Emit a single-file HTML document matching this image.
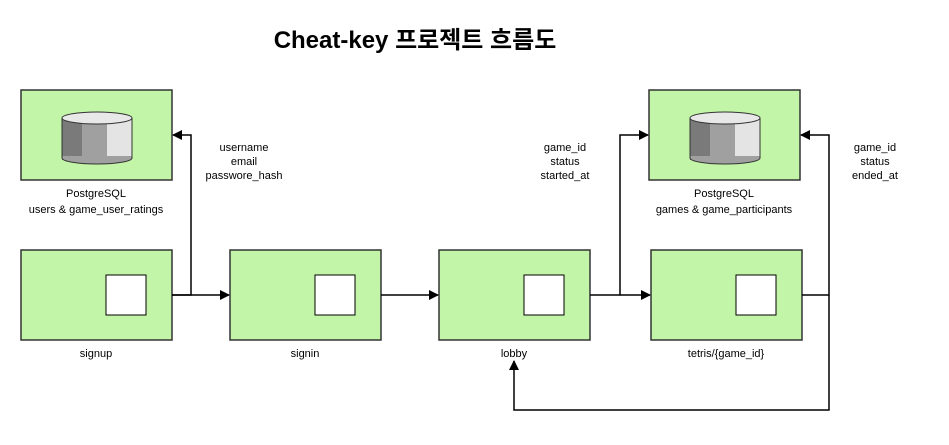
<!DOCTYPE html>
<html><head><meta charset="utf-8"><style>
html,body{margin:0;padding:0;background:#fff;}
svg text{font-family:"Liberation Sans","Noto Sans CJK KR",sans-serif;font-size:11px;fill:#000;}
</style></head><body>
<svg width="949" height="440" viewBox="0 0 949 440" xmlns="http://www.w3.org/2000/svg">
<defs>
<marker id="a" markerWidth="10" markerHeight="10" refX="9" refY="5" orient="auto" markerUnits="userSpaceOnUse"><path d="M0,0 L10,5 L0,10 Z" fill="#000"/></marker>
<g id="cyl">
<rect x="0" y="6" width="20" height="42" fill="#7a7a7a"/>
<rect x="20" y="6" width="25" height="42" fill="#a0a0a0"/>
<rect x="45" y="6" width="25" height="42" fill="#e4e4e4"/>
<path d="M0,46 A35,6 0 0 0 70,46 L70,44 L0,44Z" fill="#a0a0a0"/>
<ellipse cx="35" cy="6" rx="35" ry="6" fill="#e8e8e8" stroke="#333" stroke-width="1"/>
<path d="M0,6 L0,46 A35,6 0 0 0 70,46 L70,6" fill="none" stroke="#333" stroke-width="1"/>
</g>
</defs>
<text x="415" y="48" text-anchor="middle" style="font-size:24px;font-weight:bold">Cheat-key 프로젝트 흐름도</text>
<g fill="#c2f5a8" stroke="#333" stroke-width="1.5">
<rect x="21" y="90" width="151" height="90"/>
<rect x="649" y="90" width="151" height="90"/>
<rect x="21" y="250" width="151" height="90"/>
<rect x="230" y="250" width="151" height="90"/>
<rect x="439" y="250" width="151" height="90"/>
<rect x="651" y="250" width="151" height="90"/>
</g>
<g fill="#fff" stroke="#000" stroke-width="1">
<rect x="106" y="275" width="40" height="40"/>
<rect x="315" y="275" width="40" height="40"/>
<rect x="524" y="275" width="40" height="40"/>
<rect x="736" y="275" width="40" height="40"/>
</g>
<use href="#cyl" x="62" y="112"/>
<use href="#cyl" x="690" y="112"/>
<g stroke="#000" stroke-width="1.5" fill="none">
<path d="M172,295 L191,295 L191,135 L173,135" marker-end="url(#a)"/>
<path d="M172,295 L229,295" marker-end="url(#a)"/>
<path d="M381,295 L438,295" marker-end="url(#a)"/>
<path d="M590,295 L620,295 L620,135 L648,135" marker-end="url(#a)"/>
<path d="M620,295 L650,295" marker-end="url(#a)"/>
<path d="M802,295 L829,295 L829,135 L801,135" marker-end="url(#a)"/>
<path d="M829,295 L829,410 L514,410 L514,361" marker-end="url(#a)"/>
</g>
<g text-anchor="middle">
<text x="96" y="197">PostgreSQL</text>
<text x="96" y="213">users &amp; game_user_ratings</text>
<text x="724" y="197">PostgreSQL</text>
<text x="724" y="213">games &amp; game_participants</text>
<text x="96" y="357">signup</text>
<text x="305" y="357">signin</text>
<text x="514" y="357">lobby</text>
<text x="726" y="357">tetris/{game_id}</text>
<text x="244" y="151">username</text>
<text x="244" y="165">email</text>
<text x="244" y="179">passwore_hash</text>
<text x="565" y="151">game_id</text>
<text x="565" y="165">status</text>
<text x="565" y="179">started_at</text>
<text x="875" y="151">game_id</text>
<text x="875" y="165">status</text>
<text x="875" y="179">ended_at</text>
</g>
</svg>
</body></html>
